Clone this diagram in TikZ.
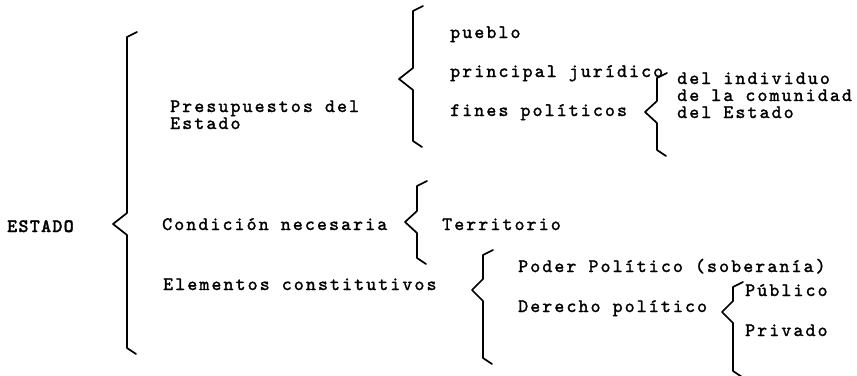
\documentclass[tikz,border=0pt]{standalone}
\usepackage{fontspec}
\newfontfamily\tw[LetterSpace=11,FakeBold=1.5,BoldFont=lmmonolt10-bold.otf,BoldFeatures={LetterSpace=7}]{lmmono10-regular.otf}
\newcommand\brc[5]{\draw[brc] (#1+10,#2-3) -- (#1,#2+2) -- (#1,#4-11) -- (#3,#4) -- (#1,#4+11) -- (#1,#5-2) -- (#1+9,#5+4);}
\begin{document}
\begin{tikzpicture}[x=1pt,y=-1pt,
  lbl/.style={anchor=base west, inner sep=0pt, font=\tw\fontsize{19}{17}\selectfont, text=black},
  blk/.style={lbl, align=left},
  brc/.style={line width=1.7pt, line join=round, line cap=round, black}]
\useasboundingbox[fill=white] (0,0) rectangle (857,375);
% texts (multi-line blocks are anchored at their last baseline)
\node[lbl] (estado) at (7,232) {\bfseries ESTADO};
\node[blk] (pres) at (170,129) {Presupuestos del\\Estado};
\node[lbl] (pueblo) at (450,38) {pueblo};
\node[lbl] (princ) at (450,77) {principal jurídico};
\node[lbl] (fines) at (450,116) {fines políticos};
\node[blk] (fin3) at (677,118) {del individuo\\de la comunidad\\del Estado};
\node[lbl] (cond) at (162,230) {Condición necesaria};
\node[lbl] (terr) at (442,230) {Territorio};
\node[lbl] (elem) at (163,290) {Elementos constitutivos};
\node[lbl] (poder) at (518,272) {Poder Político (soberanía)};
\node[lbl] (der) at (518,312) {Derecho político};
\node[lbl] (pub) at (745,296) {Público};
\node[lbl] (priv) at (745,336) {Privado};
% braces: x, top, tipx, tipy, bottom
\brc{127}{35}{113}{224}{350}
\brc{413}{9}{399}{79}{143}
\brc{657}{76}{645}{112}{152}
\brc{417}{184}{405}{222}{260}
\brc{483}{253}{472}{290}{360}
\brc{733}{285}{722}{312}{373}
\end{tikzpicture}
\end{document}
